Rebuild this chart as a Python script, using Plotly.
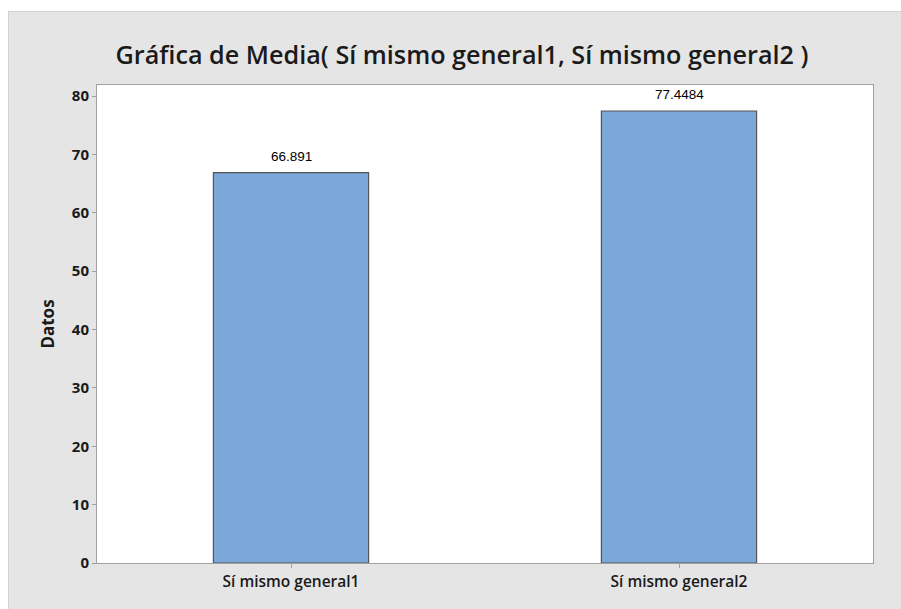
import plotly.graph_objects as go

categories = ["Sí mismo general1", "Sí mismo general2"]
means = [66.891, 77.4484]
labels = ["66.891", "77.4484"]
y_ticks = [0, 10, 20, 30, 40, 50, 60, 70, 80]

W, H = 901, 609
L, R, T, B = 97, 28, 85, 46
pw, ph = W - L - R, H - T - B

def px_x(p):
    return (p - L) / pw

def px_y(p):
    return 1 - (p - T) / ph

fig = go.Figure()
fig.add_trace(go.Bar(
    x=categories, y=means, width=0.4,
    marker=dict(color="#7BA7D9", line=dict(color="#555555", width=1.2)),
    cliponaxis=False,
))

for c, v, t in zip(categories, means, labels):
    fig.add_annotation(x=c, y=v, text=t, showarrow=False, yanchor="middle", yshift=16,
                       font=dict(family="Liberation Sans, Arial", size=13.5, color="#000000"))

shapes = [
    dict(type="rect", xref="paper", yref="paper", x0=px_x(0), x1=px_x(W), y0=px_y(0), y1=px_y(11.5),
         fillcolor="white", line=dict(width=0), layer="below"),
    dict(type="rect", xref="paper", yref="paper", x0=px_x(0), x1=px_x(8), y0=px_y(0), y1=px_y(H),
         fillcolor="white", line=dict(width=0), layer="below"),
    dict(type="line", xref="paper", yref="paper", x0=px_x(8), x1=px_x(W), y0=px_y(11.5), y1=px_y(11.5),
         line=dict(color="#d2d2d2", width=1), layer="below"),
    dict(type="line", xref="paper", yref="paper", x0=px_x(8.5), x1=px_x(8.5), y0=px_y(11.5), y1=px_y(H),
         line=dict(color="#d2d2d2", width=1), layer="below"),
]

fig.update_layout(
    width=W, height=H,
    margin=dict(l=L, r=R, t=T, b=B),
    paper_bgcolor="#e5e5e5",
    plot_bgcolor="#ffffff",
    showlegend=False,
    title=dict(text="Gráfica de Media( Sí mismo general1, Sí mismo general2 )",
               x=462 / W, xanchor="center", y=1 - 55 / H, yanchor="middle",
               font=dict(family="Open Sans", size=25.2, color="#1a1a1a", weight=600)),
    shapes=shapes,
    xaxis=dict(
        type="category", range=[-0.5, 1.5],
        showline=True, linecolor="#a0a0a0", linewidth=1, mirror=True,
        ticks="outside", ticklen=4, tickcolor="#a0a0a0",
        tickfont=dict(family="Open Sans", size=15.5, color="#1a1a1a", weight=600),
        showgrid=False,
    ),
    yaxis=dict(
        range=[0, 81.9], tickvals=y_ticks,
        showline=True, linecolor="#a0a0a0", linewidth=1, mirror=True,
        ticks="outside", ticklen=4, tickcolor="#a0a0a0",
        tickfont=dict(family="Open Sans", size=15, color="#1a1a1a", weight="bold"),
        showgrid=False, zeroline=False,
        title=dict(text="Datos", font=dict(family="Open Sans", size=17, color="#1a1a1a", weight="bold"), standoff=12),
    ),
)

fig.write_html("out.html")
